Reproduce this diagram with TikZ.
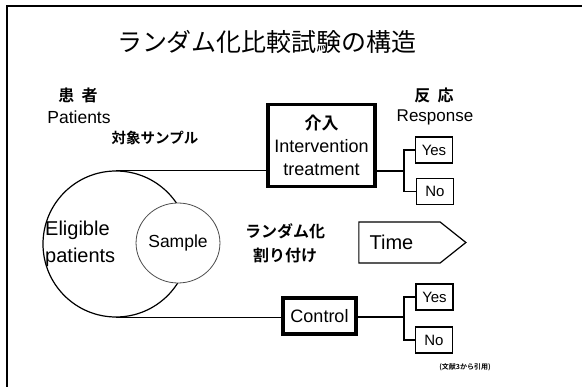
\documentclass[tikz,border=0pt]{standalone}
\usepackage{fontspec}
\setmainfont{Liberation Sans}
\newfontfamily\jp{Noto Sans CJK JP}
\newfontfamily\jpb{Noto Sans CJK JP Bold}
\usetikzlibrary{shapes.geometric,shapes.symbols}
\begin{document}
\begin{tikzpicture}[x=1pt,y=-1pt,
  thin line/.style={line width=1.2pt},
  heavybox/.style={draw, line width=3.4pt, inner sep=0pt},
  answer/.style={draw, line width=1.2pt, inner sep=0pt, minimum width=37pt, minimum height=26pt, font=\fontsize{15}{15}\selectfont},
  label/.style={inner sep=0pt, align=center}
]
\useasboundingbox (0,0) rectangle (582,387);
% frame (open on the right and bottom)
\draw[line width=2.8pt] (7,387) -- (7,6) -- (582,6);

% title
\node[label, font=\jp\fontsize{25}{25}\selectfont] (title) at (267,42) {ランダム化比較試験の構造};

% column headings
\node[label, font=\jpb\fontsize{16}{16}\selectfont] (pj) at (78,95) {患\ \ 者};
\node[label, font=\fontsize{17.5}{17.5}\selectfont] (pe) at (79,117) {Patients};
\node[label, font=\jpb\fontsize{14.5}{14.5}\selectfont] (samplej) at (155,138) {対象サンプル};
\node[label, font=\jpb\fontsize{16}{16}\selectfont] (rj) at (434,95) {反\ \ 応};
\node[label, font=\fontsize{17}{17}\selectfont] (re) at (435,117) {Response};

% patient pool and sample
\node[circle, draw, thin line, minimum size=146pt, inner sep=0pt] (elig) at (116,244) {};
\node[align=left, inner sep=0pt, anchor=west, font=\fontsize{20}{27}\selectfont] (eligt) at (45,244) {Eligible\\patients};
\node[ellipse, draw=black!70, line width=0.8pt, fill=white, minimum width=70pt, minimum height=80pt, inner sep=0pt,
      font=\fontsize{17.5}{17.5}\selectfont] (sample) at (178,243) {Sample};

% randomisation and time
\node[label, font=\jpb\fontsize{16}{24}\selectfont] (rand) at (285,243) {ランダム化\\割り付け};
\node[signal, signal to=east, signal pointer angle=77, draw, thin line, minimum width=107pt, minimum height=41pt,
      inner sep=0pt, font=\fontsize{20}{20}\selectfont] (time) at (399.5,242.5) {\hspace*{-16pt}Time};

% intervention arm
\node[heavybox, minimum width=107pt, minimum height=82pt, align=center,
      font=\fontsize{18}{23}\selectfont] (interv) at (321.5,145.5) {{\jpb\fontsize{17}{17}\selectfont 介入}\\Intervention\\treatment};
\coordinate (br1) at (404,171);
\node[answer] (yes1) at (434,150) {Yes};
\node[answer] (no1) at (435,191.5) {No};
\draw[thin line] (elig.north) -- (elig.north -| interv.west);
\draw[thin line] (interv.east |- br1) -- (br1);
\draw[thin line] (yes1.west) -| (br1) |- (no1.west);

% control arm
\node[heavybox, minimum width=73pt, minimum height=36pt, font=\fontsize{18}{18}\selectfont] (ctrl) at (319.5,316) {Control};
\coordinate (br2) at (404,317);
\node[answer] (yes2) at (434.5,297) {Yes};
\node[answer] (no2) at (434,340) {No};
\draw[thin line] (elig.south) -- (elig.south -| ctrl.west);
\draw[thin line] (ctrl.east |- br2) -- (br2);
\draw[thin line] (yes2.west) -| (br2) |- (no2.west);

% source note
\node[label, font=\jpb\fontsize{7}{7}\selectfont] (src) at (465,367) {(文献3から引用)};
\end{tikzpicture}
\end{document}
